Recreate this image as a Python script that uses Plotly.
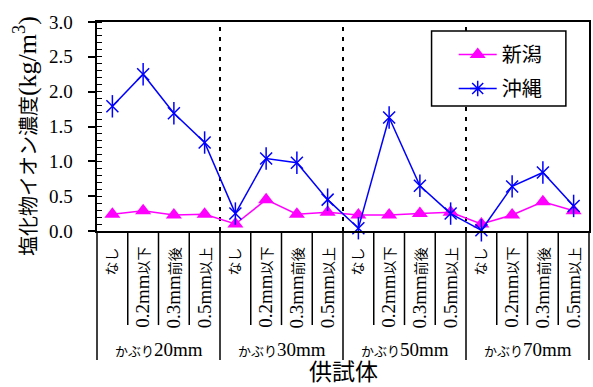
import plotly.graph_objects as go

# Crack-width categories within each cover-depth group
crack_labels = ["なし", "0.2mm以下", "0.3mm前後", "0.5mm以上"]
cover_groups = ["かぶり20mm", "かぶり30mm", "かぶり50mm", "かぶり70mm"]

# Chloride ion concentration (kg/m3) per specimen
niigata = [0.24, 0.29, 0.23, 0.24, 0.10, 0.45, 0.24, 0.27,
           0.23, 0.23, 0.25, 0.27, 0.10, 0.23, 0.42, 0.29]
okinawa = [1.79, 2.25, 1.69, 1.27, 0.25, 1.04, 0.98, 0.45,
           0.04, 1.63, 0.65, 0.25, 0.01, 0.64, 0.84, 0.36]

y_ticks = [0.0, 0.5, 1.0, 1.5, 2.0, 2.5, 3.0]

FONT = "'Liberation Serif', 'Times New Roman', 'Noto Sans CJK JP', serif"
BLUE = "#0000FF"
MAGENTA = "#FF00FF"
n_sub = len(crack_labels)
n = n_sub * len(cover_groups)
xs = list(range(n))


def mixed(text, cjk_px):
    """Wrap runs of Japanese characters in a smaller span so that
    the Latin part keeps the larger serif size."""
    out, run = [], ""
    for ch in text:
        if ord(ch) > 0x2E80:
            run += ch
        else:
            if run:
                out.append(f"<span style='font-size:{cjk_px}px'>{run}</span>")
                run = ""
            out.append(ch)
    if run:
        out.append(f"<span style='font-size:{cjk_px}px'>{run}</span>")
    return "".join(out)


fig = go.Figure()

fig.add_trace(go.Scatter(
    x=xs, y=niigata, name="新潟", legendgroup="a", mode="lines+markers",
    line=dict(color=MAGENTA, width=1.5),
    marker=dict(symbol="triangle-up", size=14, color=MAGENTA),
    cliponaxis=False,
))

# Okinawa: line with X markers plus a vertical stroke -> six-armed star
fig.add_trace(go.Scatter(
    x=xs, y=okinawa, name="沖縄", legendgroup="b", mode="lines+markers",
    showlegend=False,
    line=dict(color=BLUE, width=1.5),
    marker=dict(symbol="x-thin-open", size=12, color=BLUE,
                line=dict(color=BLUE, width=1.5)),
    cliponaxis=False,
))
fig.add_trace(go.Scatter(
    x=xs, y=okinawa, legendgroup="b", mode="markers", showlegend=False,
    hoverinfo="skip",
    marker=dict(symbol="line-ns-open", size=16, color=BLUE,
                line=dict(color=BLUE, width=1.5)),
    cliponaxis=False,
))
# legend entry for Okinawa
fig.add_trace(go.Scatter(
    x=[None], y=[None], name="沖縄", legendgroup="b", mode="lines+markers",
    line=dict(color=BLUE, width=1.5),
    marker=dict(symbol="asterisk-open", size=13, color=BLUE,
                line=dict(color=BLUE, width=1.5)),
))

shapes = []
# legend frame
shapes.append(dict(type="rect", xref="paper", yref="paper",
                   x0=0.680, x1=0.953, y0=0.598, y1=0.957, layer="above",
                   fillcolor="white", line=dict(color="black", width=1.5)))
# dotted separators between cover groups inside the plot
for g in range(1, len(cover_groups)):
    xb = g * n_sub - 0.5
    shapes.append(dict(type="line", xref="x", yref="paper",
                       x0=xb, x1=xb, y0=0, y1=1, layer="below",
                       line=dict(color="black", width=2, dash="4px,6px")))
    shapes.append(dict(type="line", xref="x", yref="paper",
                       x0=xb, x1=xb, y0=0, y1=-0.617,
                       line=dict(color="black", width=1.5)))
# outer edges of the category table
for xp in (0, 1):
    shapes.append(dict(type="line", xref="paper", yref="paper",
                       x0=xp, x1=xp, y0=0, y1=-0.617,
                       line=dict(color="black", width=1.5)))
# separators between crack-width labels
for i in range(n - 1):
    if (i + 1) % n_sub != 0:
        shapes.append(dict(type="line", xref="x", yref="paper",
                           x0=i + 0.5, x1=i + 0.5, y0=0, y1=-0.45,
                           line=dict(color="black", width=1.5)))

annotations = []
# y tick labels, set a little further from the axis
for v in y_ticks:
    annotations.append(dict(
        x=-0.044, y=v, xref="paper", yref="y", xanchor="right",
        yanchor="middle", text=f"{v:.1f}", showarrow=False,
        font=dict(family=FONT, size=19, color="black")))
for i in range(n):
    annotations.append(dict(
        x=i, y=-0.068, xref="x", yref="paper", xanchor="center",
        yanchor="top", text=mixed(crack_labels[i % n_sub], 14),
        textangle=-90, showarrow=False,
        font=dict(family=FONT, size=19, color="black")))
for g, label in enumerate(cover_groups):
    annotations.append(dict(
        x=g * n_sub + (n_sub - 1) / 2, y=-0.565, xref="x", yref="paper",
        xanchor="center", yanchor="middle", text=mixed(label, 13),
        showarrow=False, font=dict(family=FONT, size=19, color="black")))
annotations.append(dict(
    x=0.5, y=-0.675, xref="paper", yref="paper", xanchor="center",
    yanchor="middle", text="供試体", showarrow=False,
    font=dict(family=FONT, size=23, color="black")))
annotations.append(dict(
    x=-0.144, y=0.455, xref="paper", yref="paper", xanchor="center",
    yanchor="middle",
    text=mixed("塩化物イオン濃度", 20) + "(kg/m<sup>3</sup>)",
    textangle=-90, showarrow=False,
    font=dict(family=FONT, size=26, color="black")))

fig.update_layout(
    width=593, height=387,
    margin=dict(l=97, r=2, t=22, b=156),
    paper_bgcolor="white", plot_bgcolor="white",
    font=dict(family=FONT, size=16, color="black"),
    showlegend=True,
    legend=dict(x=0.725, y=0.938, xanchor="left", yanchor="top",
                bgcolor="rgba(0,0,0,0)", borderwidth=0,
                tracegroupgap=5, itemwidth=38,
                font=dict(family=FONT, size=20, color="black")),
    shapes=shapes,
    annotations=annotations,
)

fig.update_xaxes(
    range=[-0.5, n - 0.5], showticklabels=False, ticks="",
    showline=True, linecolor="black", linewidth=2, mirror=True,
    showgrid=False, zeroline=False,
)
fig.update_yaxes(
    range=[0, 3], tickvals=y_ticks, showticklabels=False,
    ticks="outside", ticklen=7, tickwidth=1.5, tickcolor="black",
    minor=dict(dtick=0.1, ticks="inside", ticklen=5, tickwidth=1,
               tickcolor="black", showgrid=False),
    showline=True, linecolor="black", linewidth=2, mirror=True,
    showgrid=False, zeroline=False,
)

fig.write_html("out.html")
